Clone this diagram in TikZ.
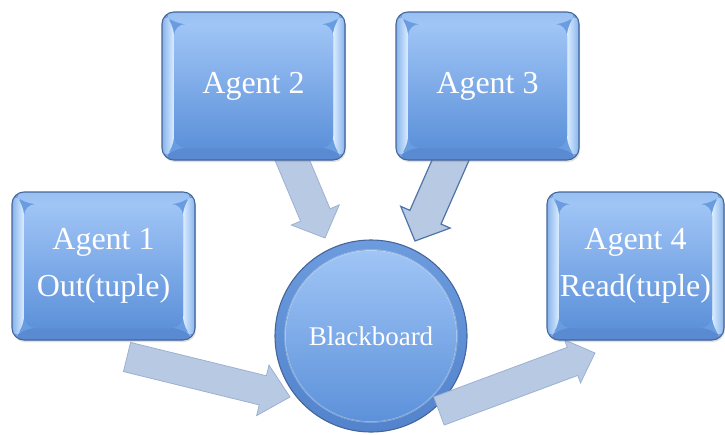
\documentclass[tikz,border=0pt]{standalone}
\usepackage{fontspec}
\setmainfont{Liberation Serif}
\usetikzlibrary{calc,shadows}
\definecolor{boxline}{HTML}{46669A}
\definecolor{boxbase}{HTML}{6A9CE0}
\definecolor{facetop}{HTML}{A0C5F6}
\definecolor{facebot}{HTML}{5C91DA}
\definecolor{bevout}{HTML}{86B3EC}
\definecolor{bevin}{HTML}{DCEEFF}
\definecolor{bevtop}{HTML}{98C0F3}
\definecolor{bevbot}{HTML}{5A8BD2}
\definecolor{ringout}{HTML}{6C9CDE}
\definecolor{ringbot}{HTML}{5283CC}
\definecolor{arrfill}{HTML}{B8C9E3}
\definecolor{arrline}{HTML}{9CB1D2}
\definecolor{arrdark}{HTML}{4E74A8}
\newcommand\agentfont{\fontsize{32}{47}\selectfont}
\newcommand\bbfont{\fontsize{27}{30}\selectfont}
\newcommand\blockarrow[6]{%
  \coordinate (ba-h) at ($(#3)!#6!(#2)$);
  \draw[#1] ($(#2)!#4!90:(#3)$) -- ($(ba-h)!#4!-90:(#2)$) -- ($(ba-h)!#5!-90:(#2)$)
    -- (#3) -- ($(ba-h)!#5!90:(#2)$) -- ($(ba-h)!#4!90:(#2)$) -- ($(#2)!#4!-90:(#3)$) -- cycle;}
\tikzset{
  agentbox/.style={rectangle, rounded corners=12pt, draw=boxline, line width=1.1pt,
    minimum height=148pt, inner sep=0pt, text=white, align=center, font=\agentfont,
    fill=boxbase, drop shadow={opacity=0.25, shadow xshift=1pt, shadow yshift=-2pt},
    path picture={
      \coordinate (NW) at (path picture bounding box.north west);
      \coordinate (NE) at (path picture bounding box.north east);
      \coordinate (SW) at (path picture bounding box.south west);
      \coordinate (SE) at (path picture bounding box.south east);
      \fill[top color=bevtop, bottom color=facetop] (NW) -- (NE) -- ($(NE)+(-12pt,-12pt)$) -- ($(NW)+(12pt,-12pt)$) -- cycle;
      \fill[bevbot] (SW) -- (SE) -- ($(SE)+(-12pt,12pt)$) -- ($(SW)+(12pt,12pt)$) -- cycle;
      \fill[left color=bevout, right color=bevin] (NW) -- ($(NW)+(12pt,-12pt)$) -- ($(SW)+(12pt,12pt)$) -- (SW) -- cycle;
      \fill[left color=bevin, right color=bevout] (NE) -- ($(NE)+(-12pt,-12pt)$) -- ($(SE)+(-12pt,12pt)$) -- (SE) -- cycle;
      \fill[top color=facetop, bottom color=facebot] ($(NW)+(12pt,-12pt)$) rectangle ($(SE)+(-12pt,12pt)$);
    }},
  boardcircle/.style={circle, minimum size=192pt, inner sep=0pt, draw=boxline, line width=1.1pt,
    top color=ringout, bottom color=ringbot, text=white, font=\bbfont,
    path picture={
      \coordinate (CC) at (path picture bounding box.center);
      \fill[top color=facetop, bottom color=facebot] (CC) circle (86pt);
      \draw[bevin, opacity=0.4, line width=1.5pt] (CC) circle (86pt);
    }},
  lightarrow/.style={fill=arrfill, draw=arrline, line width=0.8pt, line join=miter},
  darkarrow/.style={fill=arrfill, draw=arrdark, line width=1.2pt, line join=miter}
}
\begin{document}
\begin{tikzpicture}[x=1pt,y=-1pt]
\useasboundingbox (0,0) rectangle (725,434);
% blackboard
\node[boardcircle] (bb) at (371,336) {Blackboard};
% connector end points
\coordinate (a1s) at (127,357);
\coordinate (a1t) at (290,397);
\coordinate (a2s) at (288,150);
\coordinate (a2t) at (325,238);
\coordinate (a3s) at (455,150);
\coordinate (a3t) at (415,241);
\coordinate (a4s) at (439,411);
\coordinate (a4t) at (595,353);
\blockarrow{lightarrow}{a1s}{a1t}{15pt}{26pt}{28pt}
\blockarrow{lightarrow}{a2s}{a2t}{16pt}{26pt}{25pt}
\blockarrow{darkarrow}{a3s}{a3t}{17pt}{27pt}{26pt}
\blockarrow{lightarrow}{a4s}{a4t}{15pt}{23pt}{24pt}
% agents
\node[agentbox, minimum width=183pt] (ag2) at (253.5,86) {Agent 2};
\node[agentbox, minimum width=183pt] (ag3) at (487.5,86) {Agent 3};
\node[agentbox, minimum width=183pt] (ag1) at (103.5,266) {Agent 1\\Out(tuple)};
\node[agentbox, minimum width=177pt] (ag4) at (635.5,266) {Agent 4\\Read(tuple)};
\end{tikzpicture}
\end{document}
